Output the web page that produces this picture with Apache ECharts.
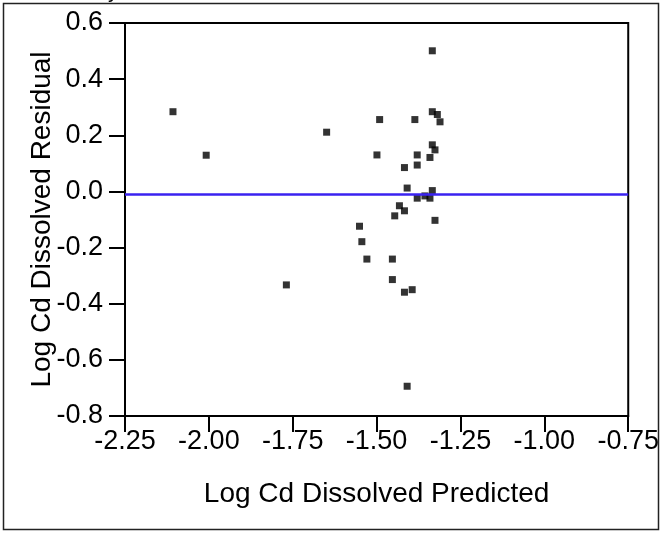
<!DOCTYPE html>
<html>
<head>
<meta charset="utf-8">
<script src="https://cdn.jsdelivr.net/npm/echarts@6/dist/echarts.min.js"></script>
<style>
html,body{margin:0;padding:0;background:#fff;}
#chart{width:662px;height:533px;}
</style>
</head>
<body>
<div id="chart"></div>
<script>
// Data
const predicted = [-2.107, -2.008, -1.649, -1.491, -1.386, -1.334, -1.334, -1.319, -1.311,
  -1.334, -1.326, -1.499, -1.379, -1.341, -1.379, -1.417, -1.409, -1.334, -1.379, -1.356,
  -1.341, -1.432, -1.417, -1.446, -1.326, -1.551, -1.544, -1.529, -1.453, -1.453, -1.394,
  -1.417, -1.409, -1.769];
const residual = [0.284, 0.129, 0.211, 0.256, 0.256, 0.501, 0.284, 0.274, 0.248,
  0.166, 0.148, 0.130, 0.130, 0.121, 0.094, 0.085, 0.012, 0.003, -0.024, -0.016,
  -0.024, -0.051, -0.069, -0.087, -0.103, -0.124, -0.179, -0.241, -0.241, -0.314, -0.350,
  -0.359, -0.694, -0.333];
const meanResidual = -0.005;
const xTicks = {min: -2.25, max: -0.75, interval: 0.25};
const yTicks = {min: -0.8, max: 0.6, interval: 0.2};
const xTitle = 'Log Cd Dissolved Predicted';
const yTitle = 'Log Cd Dissolved Residual';
const plotTitle = 'Residual by Predicted Plot';

const points = predicted.map((x, i) => [x, residual[i]]);
const FONT = '"Liberation Sans", Arial, sans-serif';
const chart = echarts.init(document.getElementById('chart'), null, {renderer: 'canvas'});
const axisCommon = {
  axisLine: {show: true, onZero: false, lineStyle: {color: '#000', width: 2}},
  axisTick: {show: true, inside: false, length: 16, lineStyle: {color: '#000', width: 2}},
  splitLine: {show: false},
  nameMoveOverlap: false,
  nameTextStyle: {color: '#000', fontSize: 28, fontFamily: FONT},
};
chart.setOption({
  animation: false,
  backgroundColor: '#fff',
  grid: {left: 125, right: 30, top: 23, bottom: 117, show: true, borderColor: '#000', borderWidth: 2, backgroundColor: 'transparent'},
  graphic: [
    {type: 'rect', shape: {x: 3.5, y: 3.5, width: 655, height: 526}, style: {fill: 'none', stroke: '#222', lineWidth: 1.5}, silent: true},
    {type: 'text', left: 4, top: -20, style: {text: plotTitle, font: '22px ' + FONT, fill: '#000'}, silent: true}
  ],
  xAxis: Object.assign({
    type: 'value', min: xTicks.min, max: xTicks.max, interval: xTicks.interval,
    name: xTitle, nameLocation: 'middle', nameGap: 64,
    axisLabel: {color: '#000', fontSize: 27, fontFamily: FONT, margin: 12, formatter: v => v.toFixed(2)}
  }, axisCommon),
  yAxis: Object.assign({
    type: 'value', min: yTicks.min, max: yTicks.max, interval: yTicks.interval,
    name: yTitle, nameLocation: 'middle', nameGap: 69,
    axisLabel: {color: '#000', fontSize: 27, fontFamily: FONT, margin: 22, formatter: v => v.toFixed(1)}
  }, axisCommon),
  series: [{
    type: 'scatter',
    data: points,
    symbol: 'rect',
    symbolSize: 7,
    itemStyle: {color: '#000'},
    markLine: {
      silent: true, symbol: 'none', label: {show: false},
      lineStyle: {color: '#3a22f0', width: 2.5, type: 'solid'},
      data: [{yAxis: meanResidual}]
    },
    z: 3
  }]
});
</script>
</body>
</html>
